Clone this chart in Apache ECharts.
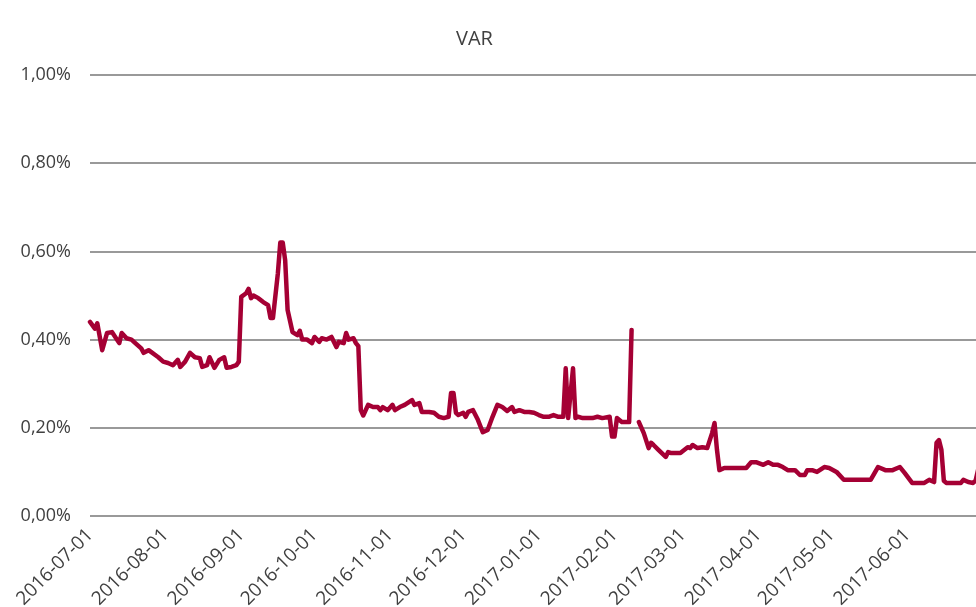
<!DOCTYPE html>
<html>
<head>
<meta charset="utf-8">
<script src="https://cdn.jsdelivr.net/npm/echarts@6/dist/echarts.min.js"></script>
<style>
html,body{margin:0;padding:0;background:#fff;}
#chart{width:976px;height:607px;}
</style>
</head>
<body>
<div id="chart"></div>
<script>
const chartTitle = 'VAR';
const dates = [
'2016-07-01','2016-07-03','2016-07-04','2016-07-06','2016-07-08','2016-07-10','2016-07-13','2016-07-14','2016-07-16','2016-07-18',
'2016-07-19','2016-07-22','2016-07-23','2016-07-25','2016-07-26','2016-07-29','2016-07-31','2016-08-02','2016-08-04','2016-08-06',
'2016-08-07','2016-08-09','2016-08-11','2016-08-13','2016-08-15','2016-08-16','2016-08-18','2016-08-19','2016-08-21','2016-08-23',
'2016-08-25','2016-08-26','2016-08-28','2016-08-30','2016-08-31','2016-09-01','2016-09-03','2016-09-04','2016-09-05','2016-09-06',
'2016-09-08','2016-09-10','2016-09-12','2016-09-13','2016-09-14','2016-09-16','2016-09-17','2016-09-18','2016-09-19','2016-09-20',
'2016-09-22','2016-09-24','2016-09-25','2016-09-26','2016-09-28','2016-09-30','2016-10-01','2016-10-03','2016-10-04','2016-10-06',
'2016-10-08','2016-10-10','2016-10-11','2016-10-13','2016-10-14','2016-10-15','2016-10-17','2016-10-18','2016-10-19','2016-10-20',
'2016-10-21','2016-10-23','2016-10-25','2016-10-27','2016-10-28','2016-10-29','2016-10-31','2016-11-02','2016-11-03','2016-11-05',
'2016-11-07','2016-11-10','2016-11-11','2016-11-13','2016-11-14','2016-11-17','2016-11-19','2016-11-21','2016-11-23','2016-11-25',
'2016-11-26','2016-11-27','2016-11-28','2016-11-29','2016-12-01','2016-12-02','2016-12-03','2016-12-05','2016-12-07','2016-12-09',
'2016-12-11','2016-12-13','2016-12-15','2016-12-17','2016-12-19','2016-12-21','2016-12-22','2016-12-24','2016-12-26','2016-12-28',
'2016-12-30','2017-01-01','2017-01-03','2017-01-05','2017-01-07','2017-01-09','2017-01-11','2017-01-12','2017-01-13','2017-01-15',
'2017-01-16','2017-01-17','2017-01-19','2017-01-21','2017-01-23','2017-01-25','2017-01-27','2017-01-30','2017-01-31','2017-02-01',
'2017-02-02','2017-02-04','2017-02-06','2017-02-07','2017-02-08','2017-02-09','2017-02-11','2017-02-13','2017-02-15','2017-02-16',
'2017-02-17','2017-02-19','2017-02-22','2017-02-23','2017-02-24','2017-02-26','2017-02-28','2017-03-03','2017-03-04','2017-03-05',
'2017-03-07','2017-03-09','2017-03-11','2017-03-13','2017-03-14','2017-03-15','2017-03-16','2017-03-18','2017-03-21','2017-03-27',
'2017-03-29','2017-03-31','2017-04-03','2017-04-05','2017-04-07','2017-04-09','2017-04-11','2017-04-13','2017-04-16','2017-04-18',
'2017-04-20','2017-04-21','2017-04-23','2017-04-25','2017-04-28','2017-04-30','2017-05-03','2017-05-06','2017-05-11','2017-05-17',
'2017-05-20','2017-05-23','2017-05-26','2017-05-29','2017-05-31','2017-06-03','2017-06-06','2017-06-08','2017-06-10','2017-06-12',
'2017-06-13','2017-06-14','2017-06-15','2017-06-16','2017-06-17','2017-06-19','2017-06-23','2017-06-24','2017-06-26','2017-06-28',
'2017-06-29','2017-06-30'
];
const varValues = [
0.44,0.425,0.437,0.376,0.415,0.417,0.392,0.415,0.403,0.40,
0.395,0.38,0.37,0.376,0.372,0.36,0.35,0.347,0.342,0.354,
0.338,0.35,0.37,0.36,0.358,0.338,0.342,0.36,0.336,0.354,
0.36,0.336,0.338,0.342,0.35,0.497,0.505,0.515,0.494,0.50,
0.494,0.485,0.478,0.449,0.449,0.55,0.62,0.62,0.58,0.467,
0.417,0.41,0.42,0.40,0.40,0.392,0.406,0.395,0.403,0.40,
0.406,0.383,0.395,0.392,0.415,0.40,0.403,0.392,0.385,0.24,
0.228,0.252,0.247,0.247,0.24,0.247,0.24,0.252,0.24,0.247,
0.252,0.263,0.252,0.256,0.236,0.236,0.234,0.225,0.222,0.225,
0.279,0.279,0.234,0.229,0.234,0.225,0.236,0.24,0.218,0.19,
0.195,0.225,0.252,0.247,0.238,0.247,0.236,0.24,0.236,0.236,
0.234,0.229,0.225,0.225,0.229,0.225,0.225,0.335,0.222,0.335,
0.222,0.225,0.222,0.222,0.222,0.225,0.222,0.225,0.18,0.18,
0.222,0.213,0.213,0.213,0.422,null,0.213,0.188,0.154,0.166,
0.161,0.15,0.134,0.145,0.143,0.143,0.143,0.156,0.154,0.161,
0.154,0.156,0.154,0.188,0.211,0.15,0.104,0.109,0.109,0.109,
0.122,0.122,0.116,0.122,0.116,0.116,0.111,0.104,0.104,0.093,
0.093,0.104,0.104,0.10,0.111,0.109,0.10,0.082,0.082,0.082,
0.111,0.104,0.104,0.111,0.097,0.075,0.075,0.075,0.082,0.077,
0.166,0.172,0.15,0.08,0.075,0.075,0.075,0.082,0.077,0.075,
0.08,0.104
];
const axisStart = '2016-07-01';
const axisEnd = '2017-06-30';
const yTicks = { min: 0, max: 1, interval: 0.2 };

const seriesData = dates.map((d, i) => [d, varValues[i]]);
const DAY = 24 * 3600 * 1000;
const fontFam = "'Open Sans', 'Noto Sans', sans-serif";

const chart = echarts.init(document.getElementById('chart'), null, { renderer: 'canvas' });
chart.setOption({
  animation: false,
  backgroundColor: '#ffffff',
  title: {
    text: chartTitle,
    left: 451,
    top: 24,
    textStyle: { fontFamily: fontFam, fontWeight: 'normal', fontSize: 20, color: '#404040' }
  },
  grid: { left: 90, top: 75, width: 888, bottom: 91, containLabel: false, outerBoundsMode: 'none' },
  xAxis: {
    type: 'time',
    min: axisStart,
    max: axisEnd,
    minInterval: 28 * DAY,
    maxInterval: 31 * DAY,
    axisLine: { show: false },
    axisTick: { show: false },
    splitLine: { show: false },
    axisLabel: {
      rotate: 45,
      margin: 16,
      showMinLabel: true,
      showMaxLabel: false,
      hideOverlap: false,
      color: '#404040',
      fontFamily: fontFam,
      fontSize: 19,
      formatter: function (val) {
        const d = new Date(val);
        if (d.getDate() !== 1) return '';
        const mm = String(d.getMonth() + 1).padStart(2, '0');
        return d.getFullYear() + '-' + mm + '-01';
      }
    }
  },
  yAxis: {
    type: 'value',
    min: yTicks.min,
    max: yTicks.max,
    interval: yTicks.interval,
    axisLine: { show: false },
    axisTick: { show: false },
    splitLine: { show: true, lineStyle: { color: '#999999', width: 2 } },
    axisLabel: {
      margin: 19,
      color: '#404040',
      fontFamily: fontFam,
      fontSize: 18,
      formatter: v => v.toFixed(2).replace('.', ',') + '%'
    }
  },
  series: [{
    type: 'line',
    name: chartTitle,
    data: seriesData,
    showSymbol: false,
    connectNulls: false,
    lineStyle: { color: '#A50034', width: 4.5, join: 'round', cap: 'round' },
    itemStyle: { color: '#A50034' }
  }]
});
</script>
</body>
</html>
